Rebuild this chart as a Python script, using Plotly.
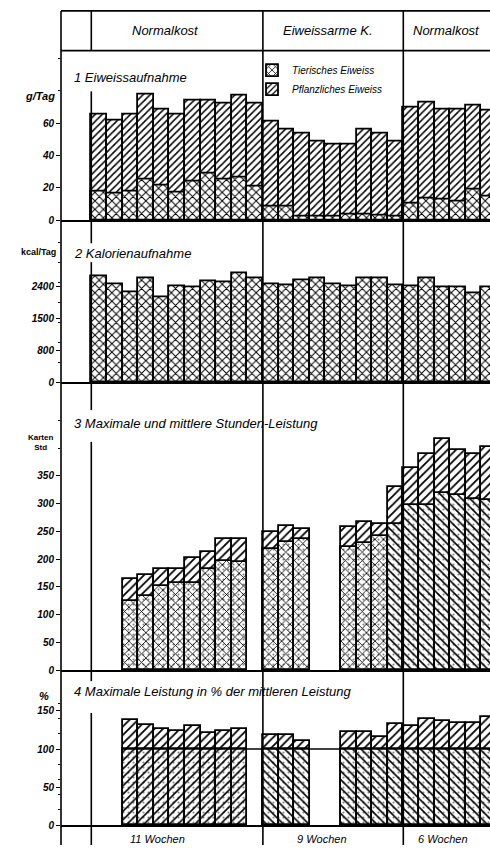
import plotly.graph_objects as go

# ---------------- data ----------------
phases = ["Normalkost", "Eiweissarme K.", "Normalkost"]
phase_lengths = [11, 9, 6]
duration_labels = ["11 Wochen", "9 Wochen", "6 Wochen"]
panel_titles = ["1 Eiweissaufnahme", "2 Kalorienaufnahme",
                "3 Maximale und mittlere Stunden-Leistung",
                "4 Maximale Leistung in % der mittleren Leistung"]
legend_names = ["Tierisches Eiweiss", "Pflanzliches Eiweiss"]
unit_labels = ["g/Tag", "kcal/Tag", "Karten<br>Std", "%"]

protein_total = [65.5, 61.4, 65.5, 77.4, 68.6, 65.5, 74.1, 74.1, 72.1, 76.8, 72.1,
                 60.8, 56.3, 53.3, 48.5, 46.5, 46.5, 56.3, 53.7, 48.5,
                 69.7, 72.7, 68.6, 68.6, 70.6, 68.0]
protein_animal = [17.4, 16.4, 17.4, 25.0, 21.5, 16.8, 23.6, 28.7, 25.0, 26.2, 20.5,
                  8.6, 8.2, 2.1, 2.1, 2.1, 3.7, 3.7, 2.7, 2.1,
                  10.3, 13.3, 12.7, 11.7, 18.9, 14.4]
kcal = [2646, 2455, 2249, 2604, 2133, 2398, 2381, 2522, 2497, 2728, 2604,
        2439, 2423, 2538, 2604, 2455, 2398, 2604, 2604, 2423,
        2398, 2588, 2373, 2373, 2232, 2381]
perf_max = [None, None, 164, 171, 182, 183, 202, 212, 236, 236, None,
            248, 260, 254, None, None, 257, 267, 263, 330,
            365, 389, 416, 396, 389, 402]
perf_mean = [None, None, 124, 134, 151, 157, 157, 183, 197, 195, None,
             218, 230, 236, None, None, 222, 229, 242, 263,
             297, 297, 319, 315, 309, 306]
perf_pct = [None, None, 138, 131, 126.5, 124, 129.6, 121, 124, 126.5, None,
            118, 118, 111, None, None, 122, 122, 115.6, 132.6,
            129.6, 140, 137, 134, 134, 142.6]
pct_reference = 100

p1_ticks = [0, 20, 40, 60]
p2_ticks = [0, 800, 1600, 2400]
p2_ticktext = ["0", "800", "1500", "2400"]
p3_ticks = [0, 50, 100, 150, 200, 250, 300, 350]
p4_ticks = [0, 50, 100, 150]

# ---------------- geometry (pixels) ----------------
W, H = 490, 851
L = 61
X0, BW = 91.3, 15.6
n = len(protein_total)
xs = [i + 0.5 for i in range(n)]
xrange = [(L - X0) / BW, (W - X0) / BW]
bounds = [0]
for k in phase_lengths:
    bounds.append(bounds[-1] + k)


def yp(p):
    return 1 - p / H


def xp(p):
    return (p - L) / (W - L)


FONT = "Liberation Sans"
ital = dict(family=FONT, size=13, color="black", style="italic")

# panel (zero-pixel, px-per-unit, top pixel)
panels = [(221.7, 1.628, 57), (385.0, 0.04029, 235), (675.0, 0.5591, 415), (831.0, 0.7667, 700)]


def pat(shape, size=6, sol=0.28):
    return dict(shape=shape, fgcolor="black", bgcolor="white", size=size,
                solidity=sol, fillmode="replace")


def dots():
    return dict(shape=".", fgcolor="black", bgcolor="rgba(0,0,0,0)", size=5,
                solidity=0.14, fillmode="overlay")


line = dict(color="black", width=1.8)
fig = go.Figure()

# panel 1
fig.add_bar(x=xs, y=protein_total, width=1, xaxis="x", yaxis="y",
            name=legend_names[1], legendrank=2,
            marker=dict(color="white", line=line, pattern=pat("/", 5, 0.3)))
fig.add_bar(x=xs, y=protein_animal, width=1, xaxis="x", yaxis="y",
            name=legend_names[0], legendrank=1,
            marker=dict(color="white", line=line, pattern=pat("x", 6, 0.3)))
# panel 2
fig.add_bar(x=xs, y=kcal, width=1, xaxis="x2", yaxis="y2", showlegend=False,
            marker=dict(color="white", line=line, pattern=pat("x", 6, 0.3)))
# panel 3
mean_shapes = ["x" if i < 19 else "\\" for i in range(n)]
fig.add_bar(x=xs, y=perf_max, width=1, xaxis="x3", yaxis="y3", showlegend=False,
            marker=dict(color="white", line=line, pattern=pat("/", 6, 0.3)))
fig.add_bar(x=xs, y=perf_mean, width=1, xaxis="x3", yaxis="y3", showlegend=False,
            marker=dict(color="white", line=line, pattern=pat(mean_shapes, 6, 0.26)))
fig.add_bar(x=xs, y=perf_mean, width=1, xaxis="x3", yaxis="y3", showlegend=False,
            marker=dict(color="rgba(0,0,0,0)", line=dict(width=0), pattern=dots()))
# panel 4
base_pct = [pct_reference if v is not None else None for v in perf_pct]
pct_shapes = ["/" if i < bounds[1] else "\\" for i in range(n)]
fig.add_bar(x=xs, y=perf_pct, width=1, xaxis="x4", yaxis="y4", showlegend=False,
            marker=dict(color="white", line=line, pattern=pat("/", 6, 0.3)))
fig.add_bar(x=xs, y=base_pct, width=1, xaxis="x4", yaxis="y4", showlegend=False,
            marker=dict(color="white", line=line, pattern=pat(pct_shapes, 6, 0.26)))
fig.add_bar(x=xs, y=base_pct, width=1, xaxis="x4", yaxis="y4", showlegend=False,
            marker=dict(color="rgba(0,0,0,0)", line=dict(width=0), pattern=dots()))

tickfont = dict(family=FONT, size=10, color="black", style="italic", weight="bold")
ticksets = [(p1_ticks, [str(t) for t in p1_ticks]), (p2_ticks, p2_ticktext),
            (p3_ticks, [str(t) for t in p3_ticks]), (p4_ticks, [str(t) for t in p4_ticks])]
layout = dict(width=W, height=H, margin=dict(l=L, r=0, t=0, b=0),
              paper_bgcolor="white", plot_bgcolor="white", barmode="overlay",
              bargap=0, font=dict(family=FONT, color="black"))
for k, ((zero, scale, top), (tv, tt)) in enumerate(zip(panels, ticksets)):
    sfx = "" if k == 0 else str(k + 1)
    layout["xaxis" + sfx] = dict(domain=[0, 1], range=xrange, anchor="y" + sfx,
                                 showline=True, linecolor="black", linewidth=1.8,
                                 showticklabels=False, ticks="", showgrid=False,
                                 zeroline=False, fixedrange=True)
    layout["yaxis" + sfx] = dict(domain=[yp(zero), yp(top)], anchor="x" + sfx,
                                 range=[0, (zero - top) / scale], tickvals=tv, ticktext=tt,
                                 ticks="outside", ticklen=4, tickcolor="black",
                                 tickwidth=1.2, tickfont=tickfont, showgrid=False,
                                 zeroline=False, showline=False,
                                 minor=dict(ticks="outside", ticklen=2, tickcolor="black",
                                            nticks=2))
fig.update_layout(**layout)
fig.update_layout(legend=dict(x=xp(252), y=yp(56), xanchor="left", yanchor="top",
                              bgcolor="rgba(0,0,0,0)", tracegroupgap=0,
                              font=dict(family=FONT, size=10, color="black", style="italic"),
                              itemwidth=30))

shapes = []
sl = dict(color="black", width=1.6)
# header box
for yy in (11, 51):
    shapes.append(dict(type="line", xref="paper", yref="paper", x0=0, x1=1,
                       y0=yp(yy), y1=yp(yy), line=sl))
shapes.append(dict(type="line", xref="paper", yref="paper", x0=0, x1=0,
                   y0=yp(11), y1=yp(H), line=sl))
for b in bounds[1:-1]:
    shapes.append(dict(type="line", xref="x", yref="paper", x0=b, x1=b,
                       y0=yp(11), y1=yp(H), line=sl))
for a, bb in [(11, 51), (92, 245), (264, 413), (445, 686), (718, H)]:
    shapes.append(dict(type="line", xref="x", yref="paper", x0=0, x1=0,
                       y0=yp(a), y1=yp(bb), line=sl))
shapes.append(dict(type="line", xref="x4", yref="y4", x0=2, x1=n,
                   y0=pct_reference, y1=pct_reference, line=sl))
fig.update_layout(shapes=shapes)

ann = []
for txt, cx in zip(phases, [165, 328, 446]):
    ann.append(dict(text=txt, x=xp(cx), y=yp(31), xref="paper", yref="paper",
                    showarrow=False, font=ital, xanchor="center", yanchor="middle"))
for txt, cy in zip(panel_titles, [78, 255, 427, 696]):
    ann.append(dict(text=txt, x=xp(72), y=yp(cy), xref="paper", yref="paper",
                    showarrow=False, font=ital, xanchor="left", yanchor="middle"))
for txt, cx in zip(duration_labels, [157, 322, 443]):
    ann.append(dict(text=txt, x=xp(cx), y=yp(845), xref="paper", yref="paper",
                    showarrow=False, font=dict(family=FONT, size=11, style="italic", color="black"),
                    xanchor="center", yanchor="middle"))
ann.append(dict(text=unit_labels[0], x=xp(57), y=yp(97), xref="paper", yref="paper",
                showarrow=False, xanchor="right", yanchor="middle",
                font=dict(family=FONT, size=11, style="italic", weight="bold", color="black")))
ann.append(dict(text=unit_labels[1], x=xp(58), y=yp(254), xref="paper", yref="paper",
                showarrow=False, xanchor="right", yanchor="middle",
                font=dict(family=FONT, size=9, weight="bold", color="black")))
ann.append(dict(text=unit_labels[2], x=xp(40), y=yp(446), xref="paper", yref="paper",
                showarrow=False, xanchor="center", yanchor="middle",
                font=dict(family=FONT, size=8, weight="bold", color="black")))
ann.append(dict(text=unit_labels[3], x=xp(44), y=yp(701), xref="paper", yref="paper",
                showarrow=False, xanchor="center", yanchor="middle",
                font=dict(family=FONT, size=11, style="italic", weight="bold", color="black")))
fig.update_layout(annotations=ann)

fig.write_html("out.html")
